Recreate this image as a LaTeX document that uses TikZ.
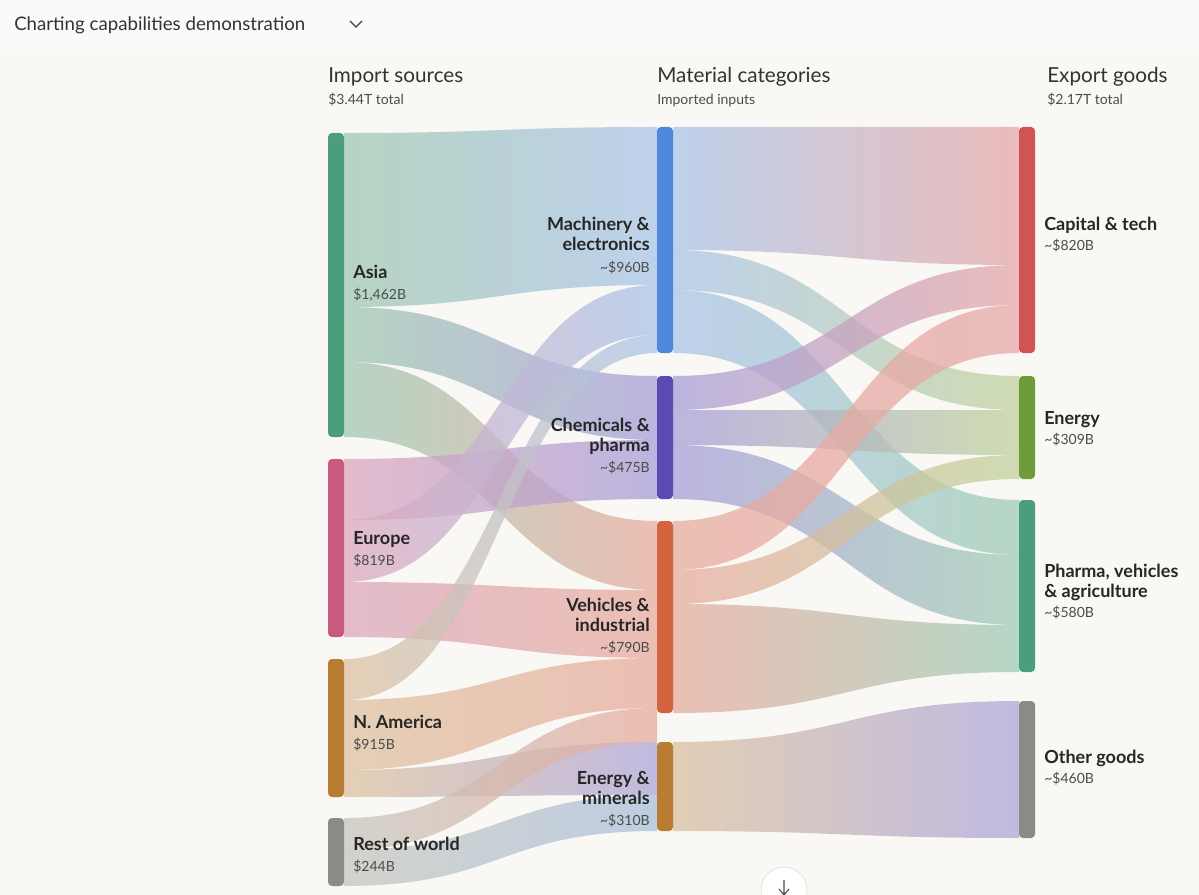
\documentclass[tikz,border=0pt]{standalone}
\usepackage{fontspec}
\setmainfont{Lato}
\begin{document}
\begin{tikzpicture}[x=0.75pt,y=-0.75pt,
  bar/.style={rounded corners=3pt},
  lab/.style={font=\fontsize{13.5}{15}\selectfont\bfseries, text=black!85, align=left, inner sep=0},
  sub/.style={font=\fontsize{10.5}{12}\selectfont, text=black!70, inner sep=0},
  head/.style={font=\fontsize{15.5}{17}\selectfont, text=black!80, anchor=base west, inner sep=0}]
\useasboundingbox (0,0) rectangle (1199,895);
\definecolor{bg}{HTML}{F9F8F5}
\definecolor{cAsia}{HTML}{4A9E7C}
\definecolor{cEur}{HTML}{C85A80}
\definecolor{cNam}{HTML}{B87C32}
\definecolor{cRow}{HTML}{8A8A86}
\definecolor{cMach}{HTML}{4F88DA}
\definecolor{cChem}{HTML}{5A4AB4}
\definecolor{cVeh}{HTML}{D4643E}
\definecolor{cEm}{HTML}{B87C32}
\definecolor{cCap}{HTML}{D05454}
\definecolor{cEn}{HTML}{6E9C3A}
\definecolor{cPh}{HTML}{4A9E7C}
\definecolor{cOth}{HTML}{8A8A86}
\definecolor{bAsia}{HTML}{A0C8B2}
\definecolor{bMach}{HTML}{AAC4E8}
\definecolor{bChem}{HTML}{A89ED8}
\definecolor{bEur}{HTML}{DCA8BE}
\definecolor{bVeh}{HTML}{E8AC9E}
\definecolor{bNam}{HTML}{DEC2A0}
\definecolor{bRow}{HTML}{C6C6BE}
\definecolor{bEm}{HTML}{DAC0A0}
\definecolor{bCap}{HTML}{E6A8A8}
\definecolor{bEn}{HTML}{C0D29C}
\definecolor{bPh}{HTML}{A0CCB6}
\definecolor{bOth}{HTML}{AEA6DA}
\definecolor{bBlu}{HTML}{AAC0DC}
\fill[bg] (0,0) rectangle (1199,895);
\fill[black!2] (0,0) rectangle (1199,50);
\node[anchor=west, inner sep=0, font=\fontsize{14}{16}\selectfont, text=black!80] (title) at (14,25) {Charting capabilities demonstration};
\draw[black!75, line width=1pt] (350,21) -- (356,27) -- (362,21);
\newcommand{\band}[8]{%
 \path[left color=#7, right color=#8, fill opacity=.75]
  (#1,#2) .. controls ({(#1+#4)/2},#2) and ({(#1+#4)/2},#5) .. (#4,#5)
  -- (#4,#6) .. controls ({(#1+#4)/2},#6) and ({(#1+#4)/2},#3) .. (#1,#3) -- cycle;}
% left -> middle
\band{344}{133}{307}{657}{127}{285}{bAsia}{bMach}
\band{344}{307}{362}{657}{376}{440}{bAsia}{bChem}
\band{344}{362}{437}{657}{521}{590}{bAsia}{bVeh}
\band{344}{459}{520}{657}{440}{499}{bEur}{bChem}
\band{344}{520}{582}{657}{285}{335}{bEur}{bMach}
\band{344}{582}{637}{657}{590}{658}{bEur}{bVeh}
\band{344}{659}{700}{657}{335}{353}{bNam}{bMach}
\band{344}{700}{770}{657}{658}{708}{bNam}{bVeh}
\band{344}{770}{797}{657}{742}{795}{bNam}{bOth}
\band{344}{818}{850}{657}{708}{742}{bRow}{bVeh}
\band{344}{850}{886}{657}{795}{831}{bRow}{bBlu}
% middle -> right
\band{673}{127}{250}{1019}{127}{265}{bMach}{bCap}
\band{673}{250}{290}{1019}{376}{410}{bMach}{bEn}
\band{673}{290}{353}{1019}{500}{555}{bMach}{bPh}
\band{673}{376}{410}{1019}{265}{305}{bChem}{bCap}
\band{673}{410}{445}{1019}{410}{455}{bChem}{bEn}
\band{673}{445}{499}{1019}{555}{625}{bChem}{bPh}
\band{673}{521}{570}{1019}{305}{353}{bVeh}{bCap}
\band{673}{570}{604}{1019}{455}{479}{bVeh}{bEn}
\band{673}{604}{713}{1019}{625}{672}{bVeh}{bPh}
\band{673}{742}{831}{1019}{701}{838}{bEm}{bOth}
% bars
\fill[bar,cAsia] (328,133) rectangle (344,437);
\fill[bar,cEur] (328,459) rectangle (344,637);
\fill[bar,cNam] (328,659) rectangle (344,797);
\fill[bar,cRow] (328,818) rectangle (344,886);
\fill[bar,cMach] (657,127) rectangle (673,353);
\fill[bar,cChem] (657,376) rectangle (673,499);
\fill[bar,cVeh] (657,521) rectangle (673,713);
\fill[bar,cEm] (657,742) rectangle (673,831);
\fill[bar,cCap] (1019,127) rectangle (1035,353);
\fill[bar,cEn] (1019,376) rectangle (1035,479);
\fill[bar,cPh] (1019,500) rectangle (1035,672);
\fill[bar,cOth] (1019,701) rectangle (1035,838);
% headers
\node[head] (h1) at (328,83) {Import sources};
\node[sub,anchor=base west] (h1s) at (328,105) {\$3.44T total};
\node[head] (h2) at (657,83) {Material categories};
\node[sub,anchor=base west] (h2s) at (657,105) {Imported inputs};
\node[head] (h3) at (1047,83) {Export goods};
\node[sub,anchor=base west] (h3s) at (1047,105) {\$2.17T total};
% left labels
\node[lab,anchor=base west] (la) at (353,278) {Asia};
\node[sub,anchor=base west] at (353,299) {\$1,462B};
\node[lab,anchor=base west] (le) at (353,544) {Europe};
\node[sub,anchor=base west] at (353,565) {\$819B};
\node[lab,anchor=base west] (ln) at (353,728) {N. America};
\node[sub,anchor=base west] at (353,749) {\$915B};
\node[lab,anchor=base west] (lr) at (353,850) {Rest of world};
\node[sub,anchor=base west] at (353,871) {\$244B};
% middle labels
\node[lab,anchor=base east,align=right] (mm) at (650,250) {Machinery \&\\electronics};
\node[sub,anchor=base east] at (650,272) {\textasciitilde\$960B};
\node[lab,anchor=base east,align=right] (mc) at (650,451) {Chemicals \&\\pharma};
\node[sub,anchor=base east] at (650,472) {\textasciitilde\$475B};
\node[lab,anchor=base east,align=right] (mv) at (650,631) {Vehicles \&\\industrial};
\node[sub,anchor=base east] at (650,652) {\textasciitilde\$790B};
\node[lab,anchor=base east,align=right] (me) at (650,804) {Energy \&\\minerals};
\node[sub,anchor=base east] at (650,825) {\textasciitilde\$310B};
% right labels
\node[lab,anchor=base west] (rc) at (1044,230) {Capital \& tech};
\node[sub,anchor=base west] at (1044,250) {\textasciitilde\$820B};
\node[lab,anchor=base west] (re) at (1044,424) {Energy};
\node[sub,anchor=base west] at (1044,444) {\textasciitilde\$309B};
\node[lab,anchor=base west] (rp) at (1044,597) {Pharma, vehicles\\\& agriculture};
\node[sub,anchor=base west] at (1044,617) {\textasciitilde\$580B};
\node[lab,anchor=base west] (ro) at (1044,763) {Other goods};
\node[sub,anchor=base west] at (1044,783) {\textasciitilde\$460B};
% scroll button
\filldraw[fill=white, draw=black!15] (784,890) circle (23);
\draw[black!70, line width=0.8pt] (784,880) -- (784,895) (779,889) -- (784,895) -- (789,889);
\end{tikzpicture}
\end{document}
